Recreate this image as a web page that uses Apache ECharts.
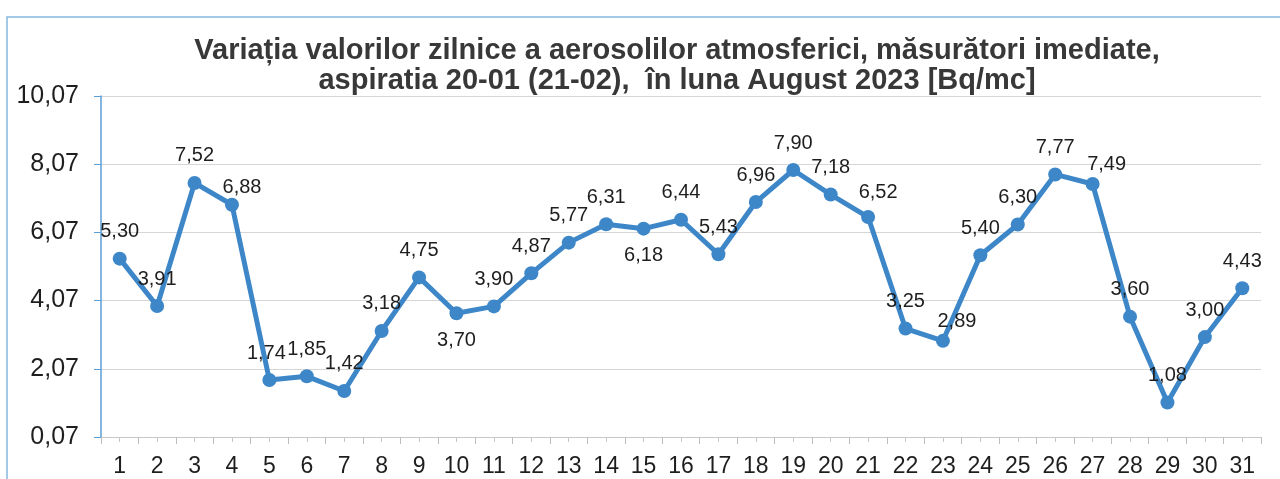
<!DOCTYPE html>
<html>
<head>
<meta charset="utf-8">
<script src="https://cdn.jsdelivr.net/npm/echarts@6/dist/echarts.min.js"></script>
<style>
  html, body { margin: 0; padding: 0; background: #fff; }
  #chart { width: 1280px; height: 479px; }
</style>
</head>
<body>
<div id="chart"></div>
<script>
// zilele lunii August 2023
var days = ['1','2','3','4','5','6','7','8','9','10','11','12','13','14','15','16',
            '17','18','19','20','21','22','23','24','25','26','27','28','29','30','31'];
// valori masurate [Bq/mc]
var values = [5.30, 3.91, 7.52, 6.88, 1.74, 1.85, 1.42, 3.18, 4.75, 3.70, 3.90, 4.87,
              5.77, 6.31, 6.18, 6.44, 5.43, 6.96, 7.90, 7.18, 6.52, 3.25, 2.89, 5.40,
              6.30, 7.77, 7.49, 3.60, 1.08, 3.00, 4.43];
// gradatii axa Y
var yTicks = [0.07, 2.07, 4.07, 6.07, 8.07, 10.07];

// etichete puse sub punct (zilele 10 si 15)
var labelsBelow = ['10', '15'];
// mici deplasari ale etichetelor, ca in original
var labelShift = { '4': [10, 10], '21': [10, 2], '23': [14, 8], '27': [14, 8], '5': [-3, 0] };

function comma(v, d) {
  return v.toFixed(d).replace('.', ',');
}

var chart = echarts.init(document.getElementById('chart'));

var seriesData = [];
for (var i = 0; i < values.length; i++) {
  var item = { value: values[i] };
  var lbl = {};
  if (labelsBelow.indexOf(days[i]) >= 0) lbl.position = 'bottom';
  if (labelShift[days[i]]) lbl.offset = labelShift[days[i]];
  item.label = lbl;
  seriesData.push(item);
}

var txtFont = 'Liberation Sans';

var option = {
  backgroundColor: '#ffffff',
  animation: false,
  title: {
    text: 'Variația valorilor zilnice a aerosolilor atmosferici, măsurători imediate,\naspiratia 20-01 (21-02),  în luna August 2023 [Bq/mc]',
    left: 672,
    top: 31,
    textAlign: 'center',
    textStyle: {
      fontFamily: txtFont,
      fontSize: 29,
      fontWeight: 'bold',
      color: '#383838',
      lineHeight: 30
    }
  },
  graphic: [{
    type: 'rect',
    shape: { x: 7, y: 17, width: 1300, height: 500 },
    style: { fill: 'none', stroke: '#86b8df', lineWidth: 1.5 },
    silent: true
  }],
  grid: { left: 101, right: 19, top: 96, bottom: 42 },
  xAxis: [{
    type: 'category',
    data: days,
    boundaryGap: true,
    axisLine: { lineStyle: { color: '#c8c8c8', width: 1 } },
    axisTick: { show: true, length: 7, lineStyle: { color: '#bdbdbd' } },
    axisLabel: {
      fontFamily: txtFont,
      fontSize: 23,
      color: '#1e1e1e',
      margin: 18,
      interval: 0
    }
  }, {
    // ticks intermediare, in dreptul fiecarei zile
    type: 'category',
    data: days,
    position: 'bottom',
    boundaryGap: true,
    axisLine: { show: false },
    axisTick: { show: true, alignWithLabel: true, length: 5, lineStyle: { color: '#c8c8c8' } },
    axisLabel: { show: false },
    splitLine: { show: false }
  }],
  yAxis: {
    type: 'value',
    min: 0.07,
    max: 10.07,
    axisLine: { show: true, lineStyle: { color: '#5a9fd8', width: 1.5 } },
    axisTick: { show: true, length: 7, customValues: yTicks, lineStyle: { color: '#5a9fd8' } },
    axisLabel: {
      customValues: yTicks,
      fontFamily: txtFont,
      fontSize: 25,
      color: '#1e1e1e',
      margin: 22,
      formatter: function (v) { return comma(v, 2); }
    },
    splitLine: { show: true, lineStyle: { color: '#d6d6d6', width: 1 } }
  },
  series: [{
    type: 'line',
    data: seriesData,
    symbol: 'circle',
    symbolSize: 14,
    lineStyle: { color: '#3d87c9', width: 5 },
    itemStyle: { color: '#3d87c9' },
    label: {
      show: true,
      position: 'top',
      distance: 10,
      fontFamily: txtFont,
      fontSize: 20,
      color: '#1e1e1e',
      formatter: function (p) { return comma(p.value, 2); }
    }
  }]
};

chart.setOption(option);
</script>
</body>
</html>
